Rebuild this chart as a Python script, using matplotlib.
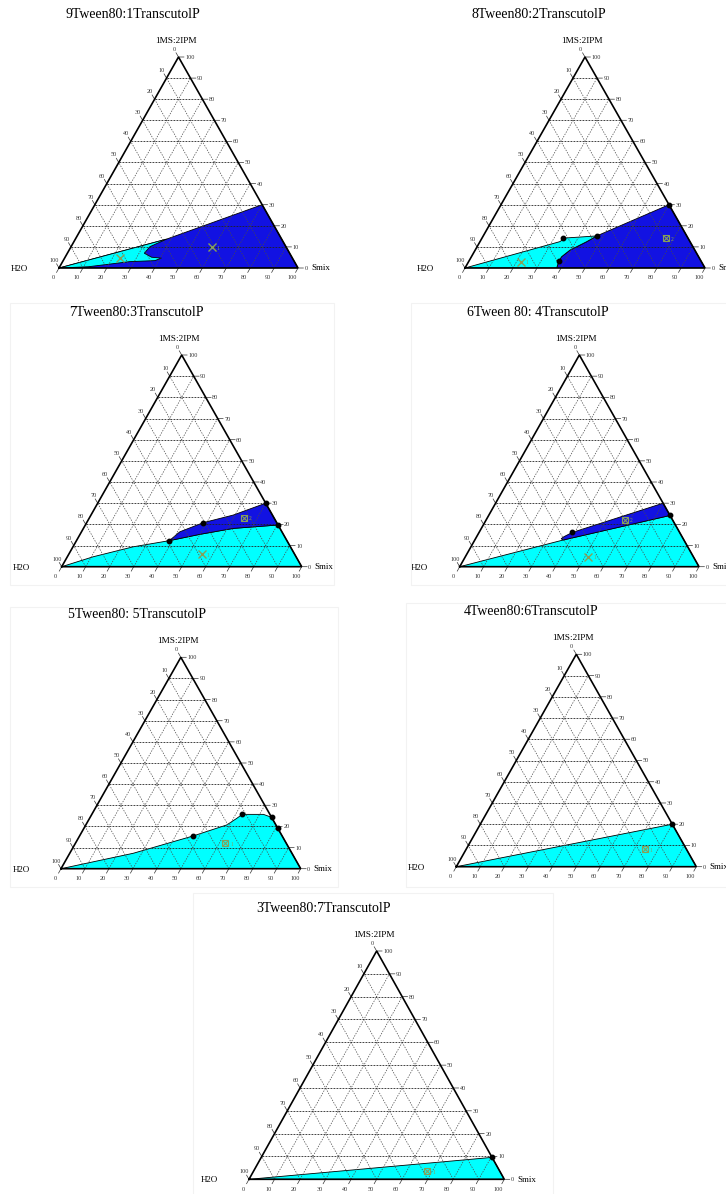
import numpy as np
import matplotlib
matplotlib.use('Agg')
import matplotlib.pyplot as plt
from matplotlib.patches import Polygon, Rectangle

# ---------------- data (ternary: Smix %, 1MS:2IPM %) ----------------
titles = ["9Tween80:1TranscutolP", "8Tween80:2TranscutolP", "7Tween80:3TranscutolP",
          "6Tween 80: 4TranscutolP", "5Tween80: 5TranscutolP", "4Tween80:6TranscutolP",
          "3Tween80:7TranscutolP"]
top_label = "1MS:2IPM"
left_label = "H2O"
right_label = "Smix"
tick_values = [0, 10, 20, 30, 40, 50, 60, 70, 80, 90, 100]

# panel 1
p1_blue_s = [0, 38.2, 70, 100]
p1_blue_o = [0, 13.7, 30, 0]
p1_cyan_s = [0, 38.2, 33.0, 32.2, 36.2, 40.5, 38.4, 28.0, 12.0]
p1_cyan_o = [0, 13.7, 10.1, 7.0, 5.1, 4.7, 3.5, 3.0, 0.6]
p1_dot_s, p1_dot_o = [], []
p1_mark_s, p1_mark_o, p1_mark_kind, p1_mark_lab = [23.2, 59.0], [4.6, 9.8], ['x', 'x'], ['', '1']

# panel 2
p2_blue_s = [38.2, 37.4, 37.6, 39.5, 44.5, 47.3, 70, 100]
p2_blue_o = [0, 3.5, 5.4, 8.5, 12.5, 15.2, 30, 0]
p2_cyan_s = [0, 33.3, 34.5, 47.3, 44.5, 39.5, 37.6, 37.4, 38.2]
p2_cyan_o = [0, 12.5, 14.2, 15.2, 12.5, 8.5, 5.4, 3.5, 0]
p2_dot_s, p2_dot_o = [33.5, 47.3, 37.4, 70], [14.4, 15.2, 3.5, 30]
p2_mark_s, p2_mark_o, p2_mark_kind, p2_mark_lab = [21.7, 76.7], [3.0, 14.1], ['x', 'b'], ['1', '2']

# panel 3
p3_cyan_s = [0, 10.8, 25.1, 38.7, 50.0, 62.5, 80.3, 100]
p3_cyan_o = [0, 4.7, 9.4, 12.3, 15.3, 18.1, 19.7, 0]
p3_blue_s = [38.7, 41.0, 48.6, 59.3, 70, 80.3, 62.5, 50.0]
p3_blue_o = [12.3, 16.5, 20.8, 24.4, 30, 19.7, 18.1, 15.3]
p3_dot_s, p3_dot_o = [38.7, 48.6, 70, 80.3], [12.3, 20.8, 30, 19.7]
p3_mark_s, p3_mark_o, p3_mark_kind, p3_mark_lab = [55.4, 64.5], [5.9, 23.1], ['x', 'b'], ['1', '2']

# panel 4
p4_cyan_s = [0, 36.9, 75.8, 100]
p4_cyan_o = [0, 12.6, 24.2, 0]
p4_blue_s = [36.9, 35.8, 36.5, 39.0, 70, 75.8]
p4_blue_o = [12.6, 13.2, 14.2, 16.2, 30, 24.2]
p4_dot_s, p4_dot_o = [39.0, 75.8], [16.2, 24.2]
p4_mark_s, p4_mark_o, p4_mark_kind, p4_mark_lab = [51.3, 57.9], [4.7, 22.1], ['x', 'b'], ['1', '2']

# panel 5
p5_cyan_s = [0, 26.5, 47.4, 58.8, 61.4, 62.8, 71.6, 75.7, 80.9, 100]
p5_cyan_o = [0, 7.3, 15.5, 20.7, 23.8, 25.7, 25.7, 24.3, 19.1, 0]
p5_blue_s, p5_blue_o = [], []
p5_dot_s, p5_dot_o = [47.4, 62.8, 75.7, 80.9], [15.5, 25.7, 24.3, 19.1]
p5_mark_s, p5_mark_o, p5_mark_kind, p5_mark_lab = [62.5], [12.0], ['b'], ['1']

# panel 6
p6_cyan_s = [0, 80, 100]
p6_cyan_o = [0, 20, 0]
p6_blue_s, p6_blue_o = [], []
p6_dot_s, p6_dot_o = [80], [20]
p6_mark_s, p6_mark_o, p6_mark_kind, p6_mark_lab = [74.4], [8.2], ['b'], ['1']

# panel 7
p7_cyan_s = [0, 90.4, 100]
p7_cyan_o = [0, 9.6, 0]
p7_blue_s, p7_blue_o = [], []
p7_dot_s, p7_dot_o = [90.4], [9.6]
p7_mark_s, p7_mark_o, p7_mark_kind, p7_mark_lab = [68.0], [3.6], ['b'], ['1']

panels = [
    dict(blue=(p1_blue_s, p1_blue_o), cyan=(p1_cyan_s, p1_cyan_o), dots=(p1_dot_s, p1_dot_o),
         marks=(p1_mark_s, p1_mark_o, p1_mark_kind, p1_mark_lab), order='bc'),
    dict(blue=(p2_blue_s, p2_blue_o), cyan=(p2_cyan_s, p2_cyan_o), dots=(p2_dot_s, p2_dot_o),
         marks=(p2_mark_s, p2_mark_o, p2_mark_kind, p2_mark_lab), order='bc'),
    dict(blue=(p3_blue_s, p3_blue_o), cyan=(p3_cyan_s, p3_cyan_o), dots=(p3_dot_s, p3_dot_o),
         marks=(p3_mark_s, p3_mark_o, p3_mark_kind, p3_mark_lab), order='cb'),
    dict(blue=(p4_blue_s, p4_blue_o), cyan=(p4_cyan_s, p4_cyan_o), dots=(p4_dot_s, p4_dot_o),
         marks=(p4_mark_s, p4_mark_o, p4_mark_kind, p4_mark_lab), order='cb'),
    dict(blue=(p5_blue_s, p5_blue_o), cyan=(p5_cyan_s, p5_cyan_o), dots=(p5_dot_s, p5_dot_o),
         marks=(p5_mark_s, p5_mark_o, p5_mark_kind, p5_mark_lab), order='cb'),
    dict(blue=(p6_blue_s, p6_blue_o), cyan=(p6_cyan_s, p6_cyan_o), dots=(p6_dot_s, p6_dot_o),
         marks=(p6_mark_s, p6_mark_o, p6_mark_kind, p6_mark_lab), order='cb'),
    dict(blue=(p7_blue_s, p7_blue_o), cyan=(p7_cyan_s, p7_cyan_o), dots=(p7_dot_s, p7_dot_o),
         marks=(p7_mark_s, p7_mark_o, p7_mark_kind, p7_mark_lab), order='cb'),
]

# ---------------- layout (pixels): left, right, base, apex ----------------
W, H = 726, 1194
boxes = [(59, 298, 268, 57), (465, 705, 268, 57),
         (61.7, 301.7, 566.7, 355), (459.7, 699, 566.7, 355),
         (61, 300.7, 868.7, 657.3), (456.3, 696.3, 866.7, 654.3),
         (249, 504.3, 1179.3, 951)]
frames = [(10, 303, 334, 585), (411, 303, 740, 585), (10, 607, 338, 887),
          (406, 603, 740, 887), (193, 893, 553, 1200)]

SERIF = ['Liberation Serif', 'DejaVu Serif']
BLUE = '#1212e2'
CYAN = '#00ffff'
MARKC = '#86a05a'
SQ = np.sqrt(3) / 2


def tern(s, o):
    s = np.asarray(s, float)
    o = np.asarray(o, float)
    return (s + o / 2) / 100.0, o / 100.0 * SQ


fig = plt.figure(figsize=(W / 100, H / 100), dpi=100)
fig.patch.set_facecolor('white')

for (x0, y0, x1, y1) in frames:
    fig.patches.append(Rectangle((x0 / W, 1 - y1 / H), (x1 - x0) / W, (y1 - y0) / H,
                                 transform=fig.transFigure, fill=False,
                                 edgecolor='#f2f2f2', lw=0.8, zorder=0))

for i, (pan, (L, R, B, A)) in enumerate(zip(panels, boxes)):
    ax = fig.add_axes([L / W, 1 - B / H, (R - L) / W, (B - A) / H])
    ax.set_xlim(0, 1)
    ax.set_ylim(0, SQ)
    ax.axis('off')

    def add_poly(key, color):
        s, o = pan[key]
        if len(s) == 0:
            return
        x, y = tern(s, o)
        ax.add_patch(Polygon(np.column_stack([x, y]), closed=True, facecolor=color,
                             edgecolor='black', lw=0.6, zorder=2))

    for ch in pan['order']:
        add_poly('blue' if ch == 'b' else 'cyan', BLUE if ch == 'b' else CYAN)

    # grid
    for v in tick_values[1:-1]:
        x, y = tern([0, 100 - v], [v, v])
        ax.plot(x, y, color='#222222', lw=0.6, ls=(0, (2.2, 1.4)), zorder=3)
        x, y = tern([v, v], [0, 100 - v])
        ax.plot(x, y, color='#4a4a4a', lw=0.5, ls=(0, (2.0, 1.8)), zorder=3)
        x, y = tern([100 - v, 0], [0, 100 - v])
        ax.plot(x, y, color='#4a4a4a', lw=0.5, ls=(0, (2.0, 1.8)), zorder=3)

    # triangle outline
    x, y = tern([0, 100, 0, 0], [0, 0, 100, 0])
    ax.plot(x, y, color='black', lw=1.2, zorder=4, solid_joinstyle='miter', clip_on=False)

    # dots
    ds, do = pan['dots']
    if len(ds):
        x, y = tern(ds, do)
        ax.plot(x, y, 'o', color='black', ms=3.2, zorder=5, clip_on=False)

    # markers
    ms_, mo_, mk_, ml_ = pan['marks']
    for s, o, k, lab in zip(ms_, mo_, mk_, ml_):
        x, y = tern(s, o)
        if k == 'b':
            ax.plot([x], [y], 's', mfc='none', mec=MARKC, ms=5, mew=0.8, zorder=6)
            ax.plot([x], [y], 'x', color=MARKC, ms=4, mew=0.8, zorder=6)
        else:
            ax.plot([x], [y], 'x', color=MARKC, ms=5.5, mew=1.0, zorder=6)
        if lab:
            ax.annotate(lab, (x, y), xytext=(5, -1), textcoords='offset pixels',
                        fontsize=4, color=MARKC, va='center', ha='left', family=SERIF, zorder=6)

    # ticks and tick labels
    for v in tick_values:
        # bottom (Smix)
        x, y = tern(v, 0)
        ax.annotate('', (x, y), xytext=(-2.5, -4.5), textcoords='offset pixels',
                    arrowprops=dict(arrowstyle='-', lw=0.5, color='#333333',
                                    shrinkA=0, shrinkB=0), annotation_clip=False)
        ax.annotate(str(v), (x, y), xytext=(-6, -10), textcoords='offset pixels',
                    fontsize=4.5, ha='center', va='center', family=SERIF,
                    color='#333333', annotation_clip=False)
        # left (H2O)
        x, y = tern(0, 100 - v)
        ax.annotate('', (x, y), xytext=(-2.5, 4.3), textcoords='offset pixels',
                    arrowprops=dict(arrowstyle='-', lw=0.5, color='#333333',
                                    shrinkA=0, shrinkB=0), annotation_clip=False)
        ax.annotate(str(v), (x, y), xytext=(-4.5, 7.5), textcoords='offset pixels',
                    fontsize=4.5, ha='center', va='center', family=SERIF,
                    color='#333333', annotation_clip=False)
        # right (1MS:2IPM)
        x, y = tern(100 - v, v)
        ax.annotate('', (x, y), xytext=(5.5, 0), textcoords='offset pixels',
                    arrowprops=dict(arrowstyle='-', lw=0.5, color='#333333',
                                    shrinkA=0, shrinkB=0), annotation_clip=False)
        ax.annotate(str(v), (x, y), xytext=(6.5, -0.5), textcoords='offset pixels',
                    fontsize=4.5, ha='left', va='center', family=SERIF,
                    color='#333333', annotation_clip=False)

    # corner labels
    x, y = tern(0, 100)
    ax.annotate(top_label, (x, y), xytext=(-3, 16), textcoords='offset pixels',
                fontsize=6.7, ha='center', va='center', family=SERIF, annotation_clip=False)
    ax.annotate(titles[i], (x, y), xytext=(-(x * (R - L)) + 7, 43), textcoords='offset pixels',
                fontsize=10, ha='left', va='center', family=SERIF, annotation_clip=False)
    x, y = tern(0, 0)
    ax.annotate(left_label, (x, y), xytext=(-40, -1), textcoords='offset pixels',
                fontsize=6.5, ha='center', va='center', family=SERIF, annotation_clip=False)
    x, y = tern(100, 0)
    ax.annotate(right_label, (x, y), xytext=(13, -0.5), textcoords='offset pixels',
                fontsize=6.5, ha='left', va='center', family=SERIF, annotation_clip=False)

fig.savefig('out.png', dpi=100, facecolor='white')
